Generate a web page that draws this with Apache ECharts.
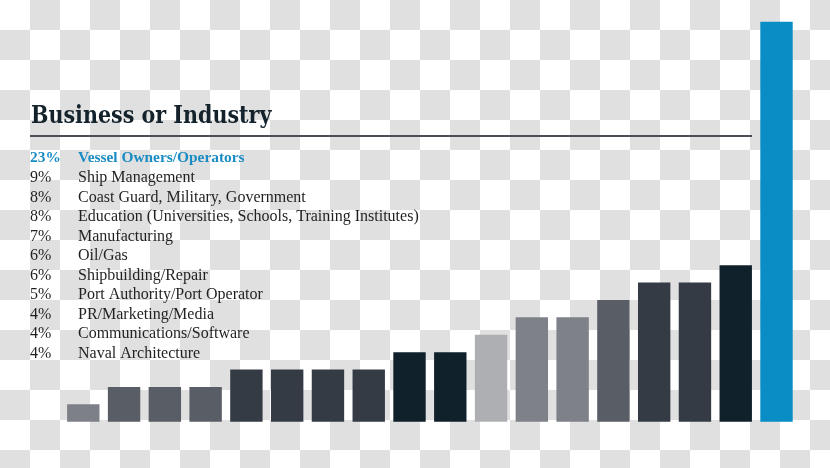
<!DOCTYPE html>
<html>
<head>
<meta charset="utf-8">
<script src="https://cdn.jsdelivr.net/npm/echarts@6/dist/echarts.min.js"></script>
<style>
html,body{margin:0;padding:0;}
body{width:830px;height:468px;overflow:hidden;
background:conic-gradient(#e0e0e0 0 25%, #ffffff 0 50%, #e0e0e0 0 75%, #ffffff 0) 0 0/60px 60px;}
#chart{width:830px;height:468px;}
</style>
</head>
<body>
<div id="chart"></div>
<script>
// ---- data ----
const titleText = 'Business or Industry';
const barCategories = ['b1','b2','b3','b4','b5','b6','b7','b8','b9','b10','b11','b12','b13','b14','b15','b16','b17','b18'];
const barValues = [1,2,2,2,3,3,3,3,4,4,5,6,6,7,8,8,9,23];
const barColors = ['#7e8088','#595d65','#595d65','#595d65','#343b45','#343b45','#343b45','#343b45','#10212b','#10212b','#aeafb3','#7f8189','#7f8189','#595d65','#343b45','#343b45','#10212b','#0a8dc4'];
const listPct = ['23%','9%','8%','8%','7%','6%','6%','5%','4%','4%','4%'];
const listLabels = ['Vessel Owners/Operators','Ship Management','Coast Guard, Military, Government','Education (Universities, Schools, Training Institutes)','Manufacturing','Oil/Gas','Shipbuilding/Repair','Port Authority/Port Operator','PR/Marketing/Media','Communications/Software','Naval Architecture'];

const chart = echarts.init(document.getElementById('chart'), null, {renderer:'canvas'});

const graphics = [];
graphics.push({type:'text', x:31, y:129, scaleX:0.86, originX:0, originY:0,
  style:{text:titleText, font:'bold 24px "DejaVu Serif"', fill:'#14222c', verticalAlign:'bottom', align:'left'}});
graphics.push({type:'line', shape:{x1:30,y1:136,x2:752,y2:136}, style:{stroke:'#4b5057', lineWidth:2}});
listPct.forEach(function(p,i){
  const hl = i===0;
  const y = 158.5 + i*19.5;
  const col = hl ? '#1b8cc3' : '#221f20';
  const font = hl ? 'bold 15.4px "Liberation Serif"' : '16px "Liberation Serif"';
  graphics.push({type:'text', x:30, y:y, style:{text:p, font:font, fill:col, verticalAlign:'middle', align:'left'}});
  graphics.push({type:'text', x:78, y:y, style:{text:listLabels[i], font:font, fill:col, verticalAlign:'middle', align:'left'}});
});

chart.setOption({
  backgroundColor:'transparent',
  animation:false,
  grid:{left:62.9, top:21.7, width:734, height:400},
  xAxis:{type:'category', data:barCategories, show:false},
  yAxis:{type:'value', min:0, max:23, show:false},
  series:[{
    type:'bar',
    barWidth:32.4,
    data:barValues.map(function(v,i){return {value:v, itemStyle:{color:barColors[i]}};})
  }],
  graphic:graphics
});
</script>
</body>
</html>
